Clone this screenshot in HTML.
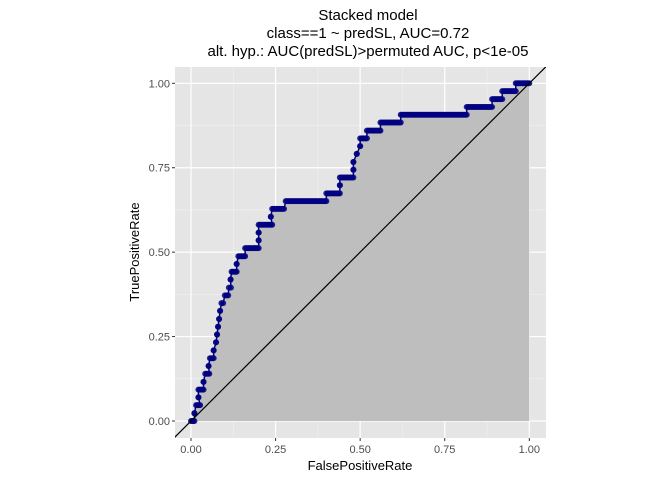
<!DOCTYPE html>
<html><head><meta charset="utf-8"><style>
html,body{margin:0;padding:0;background:#fff;}
svg{display:block;font-family:"Liberation Sans",Arial,sans-serif;}
</style></head><body>
<svg id="chart" width="672" height="480" viewBox="0 0 672 480" xmlns="http://www.w3.org/2000/svg">
<g font-size="15" fill="#000" text-anchor="middle">
<text x="368" y="20">Stacked model</text>
<text x="368" y="38">class==1 ~ predSL, AUC=0.72</text>
<text x="368" y="56">alt. hyp.: AUC(predSL)&gt;permuted AUC, p&lt;1e-05</text>
</g>
<rect x="175" y="67" width="371" height="371" fill="#e5e5e5"/>
<g id="grid"></g>
<g id="marks"></g>
<g id="axes"></g>
<text x="360" y="470" font-size="13" text-anchor="middle" fill="#000">FalsePositiveRate</text>
<text transform="translate(139,252) rotate(-90)" font-size="13" text-anchor="middle" fill="#000">TruePositiveRate</text>
</svg>
<script>
// step levels of ROC curve
const tprLevels = [0.000,0.023,0.047,0.070,0.093,0.116,0.140,0.163,0.186,0.209,0.233,0.256,0.279,0.302,0.326,0.349,0.372,0.395,0.419,0.442,0.465,0.488,0.512,0.535,0.558,0.581,0.605,0.628,0.651,0.674,0.698,0.721,0.744,0.767,0.791,0.814,0.837,0.860,0.884,0.907,0.930,0.953,0.977,1.000];
const fprStart  = [0.000,0.010,0.015,0.022,0.022,0.037,0.042,0.052,0.056,0.067,0.074,0.077,0.080,0.083,0.086,0.090,0.100,0.112,0.117,0.120,0.135,0.140,0.160,0.200,0.200,0.200,0.236,0.240,0.280,0.400,0.440,0.440,0.480,0.480,0.490,0.500,0.500,0.520,0.560,0.620,0.815,0.890,0.920,0.960];
const fprEnd    = [0.010,0.010,0.027,0.022,0.037,0.037,0.054,0.052,0.067,0.067,0.074,0.077,0.080,0.083,0.086,0.095,0.110,0.118,0.117,0.135,0.135,0.160,0.200,0.200,0.200,0.240,0.236,0.275,0.400,0.440,0.440,0.480,0.480,0.480,0.490,0.500,0.520,0.560,0.620,0.815,0.890,0.920,0.960,1.000];
const xTicks = [0,0.25,0.5,0.75,1];
const xTickLabels = ["0.00","0.25","0.50","0.75","1.00"];
const yTicks = [0,0.25,0.5,0.75,1];
const yTickLabels = ["0.00","0.25","0.50","0.75","1.00"];

const NS="http://www.w3.org/2000/svg";
const PL=175,PR=546,PT=67,PB=438;
const X0=191,X1=529.3,Y0=421,Y1=83.3;
function sx(v){return X0+(X1-X0)*v;}
function sy(v){return Y0+(Y1-Y0)*v;}
function mk(tag,attrs,parent){const e=document.createElementNS(NS,tag);for(const k in attrs)e.setAttribute(k,attrs[k]);parent.appendChild(e);return e;}
const grid=document.getElementById('grid'),marks=document.getElementById('marks'),axes=document.getElementById('axes');

for(let i=0;i<4;i++){
  const m=(xTicks[i]+xTicks[i+1])/2;
  const a=mk('line',{x1:sx(m),x2:sx(m),y1:PT,y2:PB,stroke:'#f2f2f2','stroke-width':0.6},grid);
  
  
  const b=mk('line',{y1:sy(m),y2:sy(m),x1:PL,x2:PR,stroke:'#f2f2f2','stroke-width':0.6},grid);
  
  
}
xTicks.forEach((t,i)=>{
  const g=mk('line',{x1:sx(t),x2:sx(t),y1:PT,y2:PB,stroke:'#fff','stroke-width':1.2},grid);
  
  
  const tk=mk('line',{x1:sx(t),x2:sx(t),y1:PB,y2:PB+3,stroke:'#333','stroke-width':1},axes);
  
  
  const tx=mk('text',{x:sx(t),y:453,'font-size':11,fill:'#4d4d4d','text-anchor':'middle'},axes);
  tx.textContent=xTickLabels[i];
  
  
});
yTicks.forEach((t,i)=>{
  const g=mk('line',{y1:sy(t),y2:sy(t),x1:PL,x2:PR,stroke:'#fff','stroke-width':1.2},grid);
  
  
  const tk=mk('line',{y1:sy(t),y2:sy(t),x1:PL-3,x2:PL,stroke:'#333','stroke-width':1},axes);
  
  
  const tx=mk('text',{x:PL-5,y:sy(t)+4,'font-size':11,fill:'#4d4d4d','text-anchor':'end'},axes);
  tx.textContent=yTickLabels[i];
  
  
});

// area under curve
let d='M'+sx(0)+','+sy(0);
for(let i=0;i<tprLevels.length;i++){
  d+=' L'+sx(fprStart[i])+','+sy(tprLevels[i])+' L'+sx(fprEnd[i])+','+sy(tprLevels[i]);
}
d+=' L'+sx(1)+','+sy(0)+' Z';
const area=mk('path',{d:d,fill:'#bebebe'},marks);



// curve line
let d2='';
for(let i=0;i<tprLevels.length;i++){
  d2+=(i?' L':'M')+sx(fprStart[i])+','+sy(tprLevels[i])+' L'+sx(fprEnd[i])+','+sy(tprLevels[i]);
}
const ln=mk('path',{d:d2,fill:'none',stroke:'#000080','stroke-width':1.5},marks);



// points
for(let i=0;i<tprLevels.length;i++){
  const a=fprStart[i],b=fprEnd[i];
  const n=Math.max(1,Math.round((b-a)/0.004));
  for(let k=0;k<=n;k++){
    const v=a+(b-a)*k/n;
    const c=mk('circle',{cx:sx(v),cy:sy(tprLevels[i]),r:3,fill:'#000080','fill-opacity':0.85},marks);
    
    
  }
}

// diagonal
const clip=mk('clipPath',{id:'pc'},marks);
mk('rect',{x:PL,y:PT,width:PR-PL,height:PB-PT},clip);
const diag=mk('line',{x1:sx(-0.1),y1:sy(-0.1),x2:sx(1.1),y2:sy(1.1),stroke:'#000','stroke-width':1.2,'clip-path':'url(#pc)'},marks);


</script>
</body></html>
